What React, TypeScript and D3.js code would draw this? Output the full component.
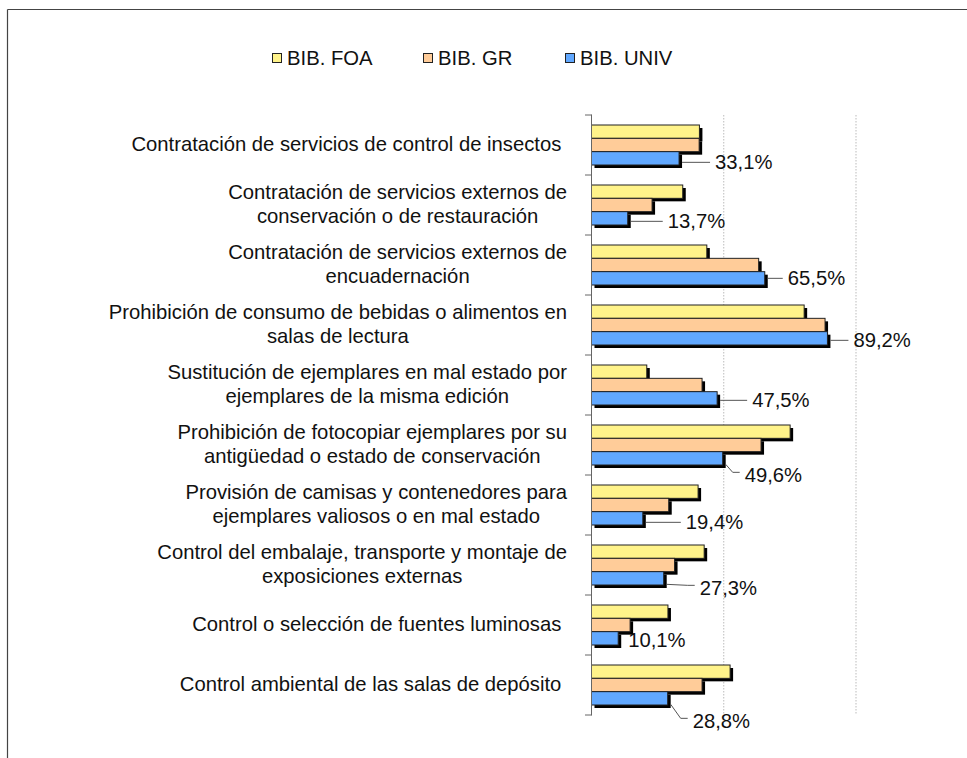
import React from "react";
import * as d3 from "d3";

const categories = [
  "Contratación de servicios de control de insectos ",
  "Contratación de servicios externos de\nconservación o de restauración",
  "Contratación de servicios externos de\nencuadernación",
  "Prohibición de consumo de bebidas o alimentos en\nsalas de lectura",
  "Sustitución de ejemplares en mal estado por\nejemplares de la misma edición",
  "Prohibición de fotocopiar ejemplares por su\nantigüedad o estado de conservación",
  "Provisión de camisas y contenedores para\nejemplares valiosos o en mal estado",
  "Control del embalaje, transporte y montaje de\nexposiciones externas",
  "Control o selección de fuentes luminosas ",
  "Control ambiental de las salas de depósito ",
];

const seriesNames = ["BIB. FOA", "BIB. GR", "BIB. UNIV"];
const foaValues = [40.8, 34.5, 43.6, 80.4, 20.9, 75.1, 40.3, 42.6, 28.9, 52.4];
const grValues = [40.7, 22.9, 63.2, 88.3, 41.8, 64.1, 29.2, 31.4, 14.6, 41.8];
const univValues = [33.1, 13.7, 65.5, 89.2, 47.5, 49.6, 19.4, 27.3, 10.1, 28.8];
const univLabels = ["33,1%", "13,7%", "65,5%", "89,2%", "47,5%", "49,6%", "19,4%", "27,3%", "10,1%", "28,8%"];
const gridTicks = [50, 100];

// layout: label offsets (dx from bar end, dy from bar center)
const labelOffsets: [number, number][] = [
  [36, 4], [40, 3], [23, 0], [26, 2], [35, 2], [22, 17], [43, 4], [36, 10], [10, 2], [25, 23],
];

const colors = ["#FFF38A", "#FFCC99", "#61A8FF"];
const FONT = "'Liberation Sans', Arial, sans-serif";
const FS = 20.25;

let ctx: CanvasRenderingContext2D | null = null;
function measure(t: string) {
  if (!ctx) {
    ctx = document.createElement("canvas").getContext("2d");
  }
  if (!ctx) return t.length * 10;
  ctx.font = `${FS}px 'Liberation Sans', Arial, sans-serif`;
  return ctx.measureText(t).width;
}

export default function App() {
  const W = 967, H = 758;
  const x = d3.scaleLinear().domain([0, 100]).range([591.5, 856]);
  const y = d3.scaleBand<number>().domain(d3.range(categories.length)).range([115, 715]).padding(0);
  const yi = d3.scaleBand<number>().domain([0, 1, 2]).range([10, 50]).padding(0);
  const allSeries = [foaValues, grValues, univValues];
  const labelRight = 567;

  return (
    <svg width={W} height={H} style={{ position: "absolute", left: 0, top: 0, background: "#fff" }} fontFamily={FONT}>
      {/* frame */}
      <line x1={7.5} y1={9.5} x2={W} y2={9.5} stroke="#444" strokeWidth={1.2} />
      <line x1={7.5} y1={9.5} x2={7.5} y2={H} stroke="#444" strokeWidth={1.2} />

      {/* legend */}
      {seriesNames.map((s, i) => {
        const lx = [272, 423, 565][i];
        return (
          <g key={s}>
            <rect x={lx + 0.5} y={53.5} width={9} height={9} fill={colors[i]} stroke="#222" strokeWidth={1} />
            <text x={lx + 15} y={65} fontSize={FS} fill="#111">{s}</text>
          </g>
        );
      })}

      {/* grid */}
      {gridTicks.map((t) => (
        <line key={t} x1={x(t)} x2={x(t)} y1={115} y2={715} stroke="#bbb" strokeWidth={1} strokeDasharray="1.5,1.5" />
      ))}

      {/* bars */}
      {categories.map((c, ci) => (
        <g key={ci} transform={`translate(0,${y(ci)})`}>
          {allSeries.map((vals, si) => (
            <rect key={"s" + si} x={x(0) + 3} y={yi(si)! + 3} width={x(vals[ci]) - x(0)} height={yi.bandwidth()} fill="#000" />
          ))}
          {allSeries.map((vals, si) => (
            <rect key={"b" + si} x={x(0)} y={yi(si)!} width={x(vals[ci]) - x(0)} height={yi.bandwidth()} fill={colors[si]} stroke="#222" strokeWidth={1} />
          ))}
        </g>
      ))}

      {/* axis */}
      <line x1={591.5} x2={591.5} y1={114.5} y2={715.5} stroke="#666" strokeWidth={1} />
      {d3.range(categories.length + 1).map((i) => (
        <line key={i} x1={585} x2={591.5} y1={115 + i * y.bandwidth()} y2={115 + i * y.bandwidth()} stroke="#666" strokeWidth={1} />
      ))}

      {/* category labels */}
      {categories.map((c, ci) => {
        const lines = c.split("\n");
        const maxW = Math.max(...lines.map(measure));
        const cx = labelRight - maxW / 2;
        const cy = y(ci)! + y.bandwidth() / 2 - 1;
        const lh = 24;
        return (
          <text key={ci} x={cx} textAnchor="middle" fontSize={FS} fill="#111" style={{ whiteSpace: "pre" }}>
            {lines.map((l, li) => (
              <tspan key={li} x={cx} y={cy + (li - (lines.length - 1) / 2) * lh + 7}>{l}</tspan>
            ))}
          </text>
        );
      })}

      {/* value labels with leaders */}
      {univValues.map((v, ci) => {
        const [dx, dy] = labelOffsets[ci];
        const xe = x(v);
        const bc = y(ci)! + yi(2)! + yi.bandwidth() / 2;
        const tx = xe + dx;
        const ty = bc + dy;
        let path = "";
        if (dx >= 15) {
          const sx = xe + 3;
          const sy = bc + Math.min(dy, 6);
          if (dy > 8) {
            path = d3.line()([[sx, sy], [tx - 12, ty - 3], [tx - 5, ty - 3]]) || "";
          } else {
            path = d3.line()([[sx, sy], [tx - 5, ty]]) || "";
          }
        }
        return (
          <g key={ci}>
            {path && <path d={path} fill="none" stroke="#555" strokeWidth={1} />}
            <text x={tx} y={ty + 7} fontSize={FS} fill="#111">{univLabels[ci]}</text>
          </g>
        );
      })}
    </svg>
  );
}
